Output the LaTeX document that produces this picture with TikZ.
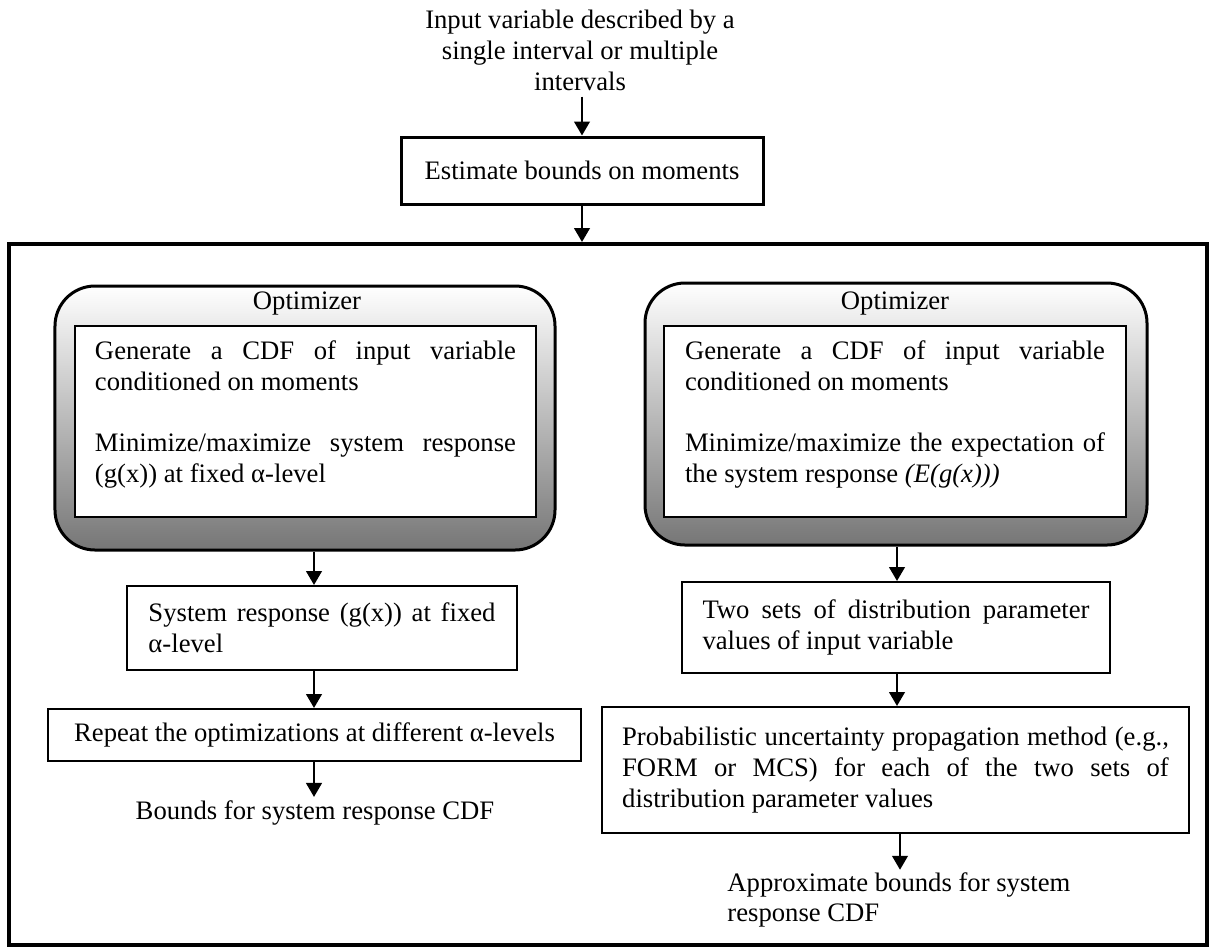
\documentclass[tikz,border=0pt]{standalone}
\usepackage{fontspec}
\setmainfont{Liberation Serif}
\usetikzlibrary{arrows.meta}
\hyphenpenalty=10000
\exhyphenpenalty=10000
\definecolor{optbottom}{RGB}{118,118,118}

\begin{document}
\begin{tikzpicture}[x=0.45pt,y=-0.45pt,
  every node/.style={font=\fontsize{12}{13.8}\selectfont},
  arr/.style={line width=1.15pt,-{Triangle[length=6.3pt,width=7pt]}},
  plaintext/.style={inner sep=0pt},
  stepbox/.style={draw,line width=0.9pt,fill=white,inner sep=0pt,align=justify},
  optbox/.style={draw,line width=1.35pt,rounded corners=18pt,top color=white,
    bottom color=optbottom,inner sep=0pt},
  innerbox/.style={draw,line width=0.8pt,fill=white,inner sep=0pt,
    minimum height=85.95pt},
  frame/.style={draw,line width=1.8pt,inner sep=0pt}
]
\useasboundingbox (0,0) rectangle (1212,947);

% top of the flow
\node[plaintext,align=center] (input) at (580,50.5)
  {Input variable described by a\\single interval or multiple\\intervals};
\node[draw,line width=1.35pt,minimum width=162.9pt,minimum height=30.15pt]
  (est) at (582,170.5) {Estimate bounds on moments};

% outer frame holding both branches
\node[frame,minimum width=539.1pt,minimum height=315.45pt] (frame) at (608,594.5) {};

% left branch: optimizer at fixed alpha-level
\node[optbox,minimum width=225pt,minimum height=118.8pt] (optL) at (305,418) {};
\node[innerbox,minimum width=207.45pt] (innerL) at (305.5,421.5) {};
\node[plaintext] (optLlab) at (307,303) {Optimizer};
\node[plaintext,text width=189.45pt,align=justify] (innerLtxt) at (305.5,414.5)
  {Generate a CDF of input variable conditioned on moments\par
   \vspace{\baselineskip}
   Minimize/maximize system response (g(x)) at fixed α-level};
\node[stepbox,text width=156.15pt,minimum width=175.5pt,minimum height=37.8pt]
  (sysL) at (322,628) {System response (g(x)) at fixed α-level};
\node[stepbox,align=center,minimum width=239.85pt,minimum height=23.4pt]
  (repL) at (314.5,735) {Repeat the optimizations at different α-levels};
\node[plaintext] (boundsL) at (315,813) {Bounds for system response CDF};

% right branch: optimizer on the expectation
\node[optbox,minimum width=225.9pt,minimum height=117.9pt] (optR) at (896,414) {};
\node[innerbox,minimum width=207.9pt] (innerR) at (895,421.5) {};
\node[plaintext] (optRlab) at (895,303) {Optimizer};
\node[plaintext,text width=189pt,align=justify] (innerRtxt) at (895,414.5)
  {Generate a CDF of input variable conditioned on moments\par
   \vspace{\baselineskip}
   Minimize/maximize the expectation of the system response \textit{(E(g(x)))}};
\node[stepbox,text width=174.15pt,minimum width=192.6pt,minimum height=40.95pt]
  (twoR) at (896,627.5) {Two sets of distribution parameter values of input variable};
\node[stepbox,text width=246pt,minimum width=264.15pt,minimum height=56.7pt]
  (probR) at (895.5,770) {Probabilistic uncertainty propagation method (e.g.,
   FORM or MCS) for each of the two sets of distribution parameter values};
\node[plaintext,align=left,anchor=west] (approxR) at (727,900)
  {Approximate bounds for system\\response CDF};

% connectors
\coordinate (colL) at (314,0);
\coordinate (colR) at (897,0);
\coordinate (colR2) at (900,0);
\draw[arr] ([yshift=-2.5pt]input.south -| est.north) -- (est.north);
\draw[arr] (est.south) -- (frame.north -| est.south);
\draw[arr] (optL.south -| colL) -- (sysL.north -| colL);
\draw[arr] (sysL.south -| colL) -- (repL.north -| colL);
\draw[arr] (repL.south -| colL) -- ([yshift=1.5pt]boundsL.north -| colL);
\draw[arr] (optR.south -| colR) -- (twoR.north -| colR);
\draw[arr] (twoR.south -| colR) -- (probR.north -| colR);
\draw[arr] (probR.south -| colR2) -- ([yshift=1pt]approxR.north -| colR2);
\end{tikzpicture}
\end{document}
